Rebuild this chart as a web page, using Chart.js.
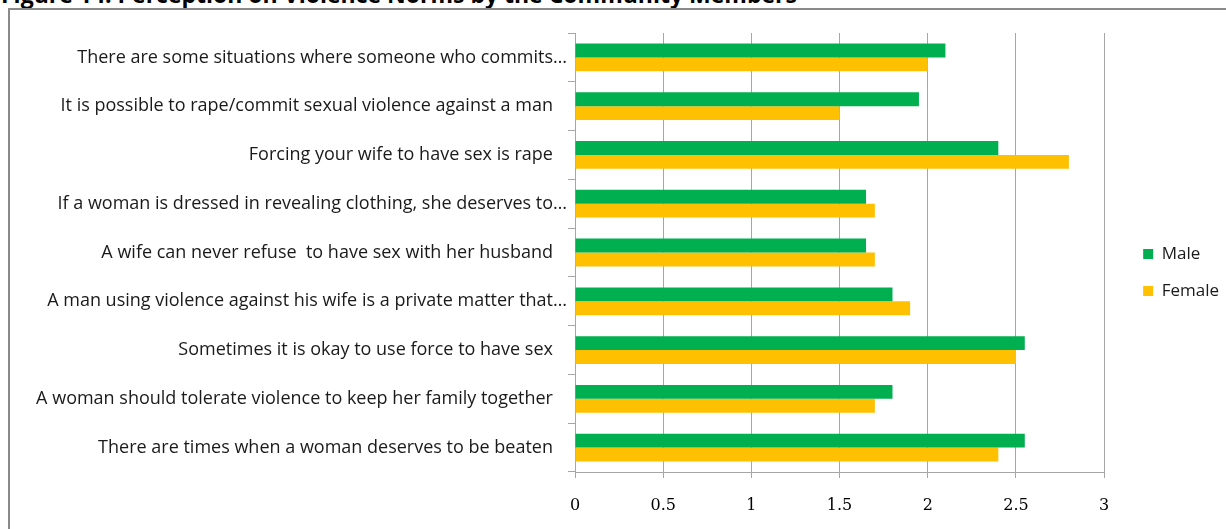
<!DOCTYPE html>
<html>
<head>
<meta charset="utf-8">
<title>Perception on Violence Norms</title>
<script src="https://cdn.jsdelivr.net/npm/chart.js@4.4.1/dist/chart.umd.min.js"></script>
<style>
  html, body { margin: 0; padding: 0; background: #fff; overflow: hidden; }
  #wrap { position: relative; width: 1226px; height: 529px; overflow: hidden; }
  #title {
    position: absolute; left: 1px; top: -17px; margin: 0;
    font: bold 23px "Open Sans", sans-serif; line-height: 1; color: #000;
    white-space: nowrap;
  }
  #frame {
    position: absolute; left: 8px; top: 8px; width: 1400px; height: 700px;
    border: 2px solid #8a8a8a;
  }
  #norms { position: absolute; left: 0; top: 0; }
</style>
</head>
<body>
<div id="wrap">
  <h1 id="title">Figure 14: Perception on Violence Norms by the Community Members</h1>
  <div id="frame"></div>
  <canvas id="norms" width="1230" height="529"></canvas>
</div>
<script>
// statements asked to respondents (long ones were cut off in the report)
var statements = [
  "There are some situations where someone who commits\u2026",
  "It is possible to rape/commit sexual violence against a man   ",
  "Forcing your wife to have sex is rape   ",
  "If a woman is dressed in revealing clothing, she deserves to\u2026",
  "A wife can never refuse  to have sex with her husband   ",
  "A man using violence against his wife is a private matter that\u2026",
  "Sometimes it is okay to use force to have sex   ",
  "A woman should tolerate violence to keep her family together   ",
  "There are times when a woman deserves to be beaten   "
];
var male = [2.1, 1.95, 2.4, 1.65, 1.65, 1.8, 2.55, 1.8, 2.55];
var female = [2.0, 1.5, 2.8, 1.7, 1.7, 1.9, 2.5, 1.7, 2.4];
var xMin = 0, xMax = 3, xStep = 0.5;

var lineGrey = '#a6a6a6';

let ctx = document.querySelector("#norms").getContext("2d");
let normsChart = new Chart(ctx, {
	type: 'bar',
	data: {
		labels: statements,
		datasets: [{
			label: 'Male',
			backgroundColor: '#00B050',
			borderWidth: 0,
			data: male,
		}, {
			label: 'Female',
			backgroundColor: '#FFC000',
			borderWidth: 0,
			data: female,
		}]
	},
	options: {
		indexAxis: 'y',
		responsive: false,
		animation: false,
		categoryPercentage: 0.57,
		barPercentage: 1.0,
		layout: {
			padding: { top: 33, bottom: 17, left: 10, right: 1 }
		},
		plugins: {
			tooltip: { enabled: false },
			legend: {
				position: 'right',
				labels: {
					boxWidth: 10,
					boxHeight: 10,
					padding: 20,
					color: '#1a1a1a',
					font: { family: 'Open Sans', size: 17 }
				}
			}
		},
		scales: {
			x: {
				min: xMin,
				max: xMax,
				ticks: {
					stepSize: xStep,
					padding: 18,
					color: '#000',
					font: { family: 'DejaVu Serif', size: 16 },
					callback: function(v) { return String(v); }
				},
				grid: { color: lineGrey, tickLength: 6 },
				border: { color: lineGrey },
				afterFit: function(s) { s.height = 40; }
			},
			y: {
				ticks: {
					autoSkip: false,
					padding: 1,
					color: '#1a1a1a',
					font: { family: 'Open Sans', size: 18 }
				},
				grid: { drawOnChartArea: false, tickLength: 7, color: lineGrey },
				border: { color: lineGrey },
				afterFit: function(s) { s.width = 565; }
			},
			// empty strip between the plot and the legend
			gap: {
				position: 'right',
				grid: { display: false },
				ticks: { display: false },
				border: { display: false },
				afterFit: function(s) { s.width = 19; }
			}
		}
	}
});
</script>
</body>
</html>
